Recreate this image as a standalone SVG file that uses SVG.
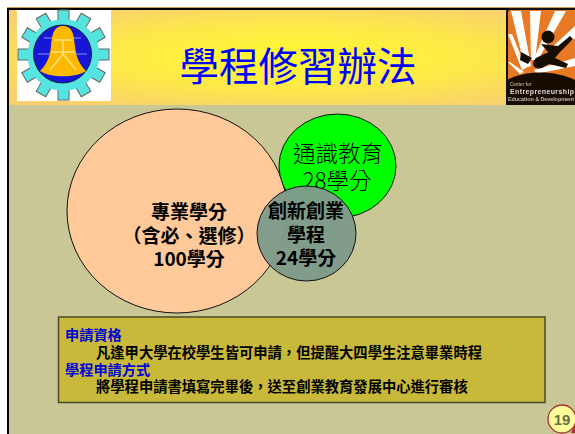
<svg xmlns="http://www.w3.org/2000/svg" width="575" height="434" viewBox="0 0 575 434">
<style>
text{font-family:"Noto Sans CJK TC","Liberation Sans",sans-serif}
.c{text-anchor:middle}
.k{fill:#000;font-weight:700;font-size:14.3px}
.b{fill:#0000d8;font-weight:700;font-size:14.2px}
.n{stroke:#111;stroke-width:1}
.g{fill:#000;font-size:22.5px;font-weight:300}
.s{fill:#000;font-size:19px;font-weight:700}
.lt{font-family:"Liberation Sans",sans-serif;font-weight:700}
</style>
<defs>
<radialGradient id="hd" cx="0.5" cy="0.5" r="0.62">
<stop offset="0" stop-color="#fff930"/><stop offset=".55" stop-color="#fde84a"/><stop offset="1" stop-color="#f8d070"/>
</radialGradient>
<filter id="soft" x="-5%" y="-5%" width="110%" height="110%"><feGaussianBlur stdDeviation="0.45"/></filter>
</defs>
<rect width="575" height="434" fill="#fff"/>
<rect x="8" y="8" width="567" height="426" fill="#c9c795"/>
<rect x="8" y="9" width="567" height="96" fill="url(#hd)"/>
<path d="M8 434V9H575" fill="none" stroke="#000" stroke-width="2"/>
<path d="M7 7.500H575" stroke="#c8a050" stroke-width="1"/>
<g id="logo-left">
<rect x="17" y="10" width="94" height="91" fill="#fff"/>
<g filter="url(#soft)">
<g fill="#56e4e0" stroke="#666" stroke-width="1">
<g id="teeth">
<rect x="58" y="10" width="11" height="12"/><rect x="58" y="88" width="11" height="12"/>
<rect x="18" y="49" width="12" height="11"/><rect x="97" y="49" width="12" height="11"/>
<rect x="58" y="10" width="11" height="12" transform="rotate(30 63.500 55)"/><rect x="58" y="10" width="11" height="12" transform="rotate(60 63.500 55)"/>
<rect x="58" y="10" width="11" height="12" transform="rotate(120 63.500 55)"/><rect x="58" y="10" width="11" height="12" transform="rotate(150 63.500 55)"/>
<rect x="58" y="10" width="11" height="12" transform="rotate(210 63.500 55)"/><rect x="58" y="10" width="11" height="12" transform="rotate(240 63.500 55)"/>
<rect x="58" y="10" width="11" height="12" transform="rotate(300 63.500 55)"/><rect x="58" y="10" width="11" height="12" transform="rotate(330 63.500 55)"/>
</g>
<circle cx="63.500" cy="55" r="36" stroke="none"/>
</g>
<circle cx="62.500" cy="54" r="29" fill="#1414d8" stroke="#123" stroke-width="1"/>
<path d="M44 38H81M38 54H87" stroke="#8f93ee" stroke-width="1" fill="none"/>
<path d="M63 26C53 26 52 36 51 46C50 58 46 65 40 71C50 78 76 78 86 71C80 65 76 58 75 46C74 36 73 26 63 26Z" fill="#fdb900"/>
<path d="M54 40H72M51 52H75M63 40V54L50 70M63 54L76 70" stroke="#ffe27a" stroke-width="1.500" fill="none"/>
</g>
</g>
<g id="logo-right">
<rect x="507" y="9" width="68" height="96" rx="3" fill="#e97a25"/>
<g filter="url(#soft)">
<g fill="#fff">
<polygon points="511,11 521,11 531,66 525,68"/>
<polygon points="530,11 541,11 535,60 531,60"/>
<polygon points="555,11 566,11 538,60 534,58"/>
<polygon points="575,26 575,38 541,64 538,60"/>
<polygon points="508,34 512,34 526,68 522,70"/>
<polygon points="508,62 510,62 524,72 520,74"/>
<polygon points="575,58 575,66 536,74 534,70"/>
</g>
<path d="M507 105V80C525 70 555 70 575 80V105Z" fill="#120a06"/>
<g fill="#120a06">
<circle cx="548" cy="37" r="6.500"/>
<path d="M541 44L558 46L570 36L573 39L560 52L555 58L568 64L566 68L549 64L542 68C534 70 530 64 536 58L548 52Z"/>
<polygon points="521,52 532,58 528,64 520,60"/>
</g>
<text class="lt" x="510" y="86" fill="#b8a090" style="font-size:4.500px">Center for</text>
<text class="lt" x="510" y="94" fill="#e0d4d0" style="font-size:7px" textLength="64">Entrepreneurship</text>
<text class="lt" x="508" y="101" fill="#c4b4a8" style="font-size:5.500px" textLength="66">Education &amp; Development</text>
</g>
<path d="M507 105V12Q507 9 510 9H575" fill="none" stroke="#111" stroke-width="2"/>
</g>
<text id="title" class="c" x="298" y="81" fill="#0000ff" style="font-size:39.500px">學程修習辦法</text>
<g id="node-major">
<ellipse class="n" cx="177" cy="211" rx="110" ry="102" fill="#ffc999"/>
<text class="c s" x="189" y="219">專業學分</text>
<text class="c s" x="189" y="243">（含必、選修）</text>
<text class="c s" x="189" y="266">100學分</text>
</g>
<g id="node-general">
<ellipse class="n" cx="337.500" cy="166" rx="58.500" ry="52" fill="#00ff00"/>
<text class="c g" x="338" y="162">通識教育</text>
<text class="c g" x="337" y="189">28學分</text>
</g>
<g id="node-innovation">
<ellipse class="n" cx="306.500" cy="233.500" rx="49.500" ry="47.500" fill="#7f9a8b" fill-opacity=".96"/>
<text class="c s" x="306" y="218">創新創業</text>
<text class="c s" x="306" y="242">學程</text>
<text class="c s" x="306" y="265">24學分</text>
</g>
<g id="note">
<rect x="58.500" y="317" width="486.500" height="85.500" fill="#c8b93a" stroke="#4a4a28" stroke-width="1.500"/>
<text class="b" x="65" y="340">申請資格</text>
<text class="k" x="96" y="358">凡逢甲大學在校學生皆可申請，但提醒大四學生注意畢業時程</text>
<text class="b" x="65" y="375">學程申請方式</text>
<text class="k" x="96" y="392">將學程申請書填寫完畢後，送至創業教育發展中心進行審核</text>
</g>
<g id="page-badge">
<ellipse cx="562" cy="419" rx="14" ry="14" fill="#ffff99" stroke="#a83030" stroke-width="1.300"/>
<path d="M571 433L575 424V433Z" fill="#b03030"/>
<text class="c" x="562" y="424.500" fill="#6b6b4a" style="font-family:'Liberation Sans',sans-serif;font-size:15px;font-weight:700">19</text>
</g>
</svg>
